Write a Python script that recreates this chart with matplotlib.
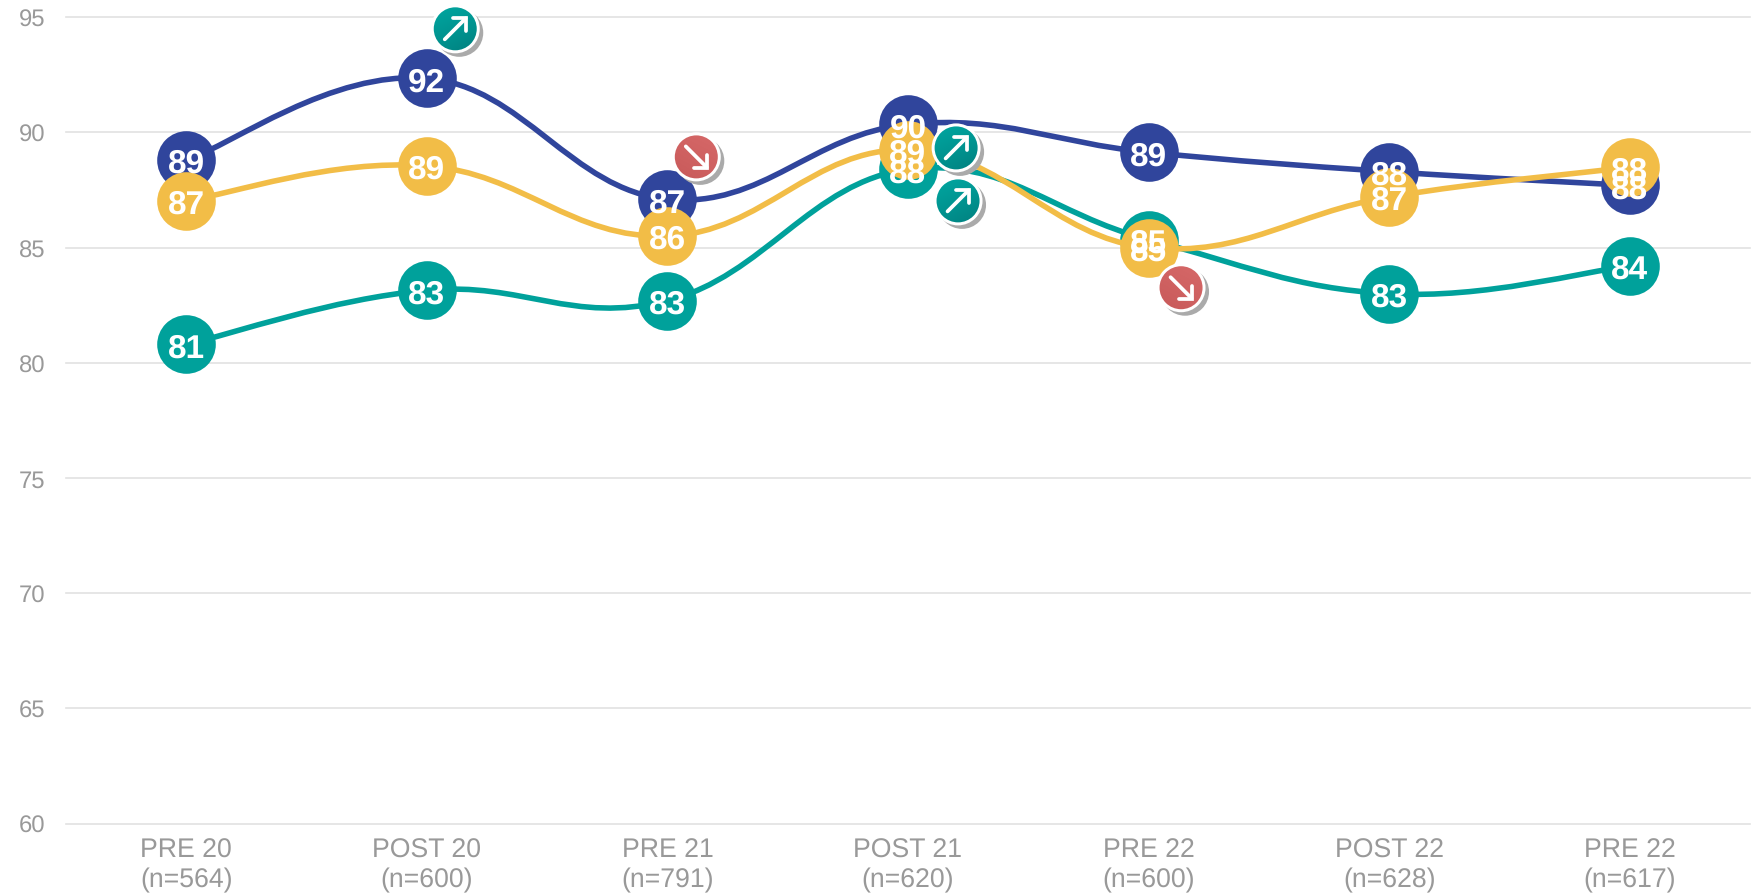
import matplotlib
matplotlib.use('Agg')
import matplotlib.pyplot as plt
import numpy as np
from matplotlib.patches import Ellipse, PathPatch
from matplotlib.path import Path

plt.rcParams['font.family'] = ['Liberation Sans', 'DejaVu Sans']
plt.rcParams['text.hinting'] = 'no_hinting'

categories = ['PRE 20\n(n=564)', 'POST 20\n(n=600)', 'PRE 21\n(n=791)', 'POST 21\n(n=620)',
              'PRE 22\n(n=600)', 'POST 22\n(n=628)', 'PRE 22\n(n=617)']
blue = [88.8, 92.35, 87.1, 90.35, 89.14, 88.3, 87.7]
teal = [80.8, 83.15, 82.7, 88.4, 85.35, 83.0, 84.2]
yellow = [87.04, 88.55, 85.5, 89.25, 85.0, 87.2, 88.49]
y_ticks = [60, 65, 70, 75, 80, 85, 90, 95]

# trend badges: x position, y value, direction
badge_x = [1.118, 2.12, 3.2, 3.208, 4.135]
badge_y = [94.5, 88.94, 89.33, 87.03, 83.26]
badge_dir = ['up', 'down', 'up', 'up', 'down']

BLUE = '#30459c'
TEAL = '#00a19b'
YELLOW = '#f2bd47'
GREY = '#999999'

W, H = 1759, 895
TOP, BOTTOM = 18.3, 824.5
fig = plt.figure(figsize=(W / 100, H / 100), dpi=100)
ax = fig.add_axes([66 / W, 1 - BOTTOM / H, (1750 - 66) / W, (BOTTOM - TOP) / H])
ax.set_xlim(-0.5, 6.5)
ax.set_ylim(60, 95)
px_x = (1750 - 66) / 7
px_y = (BOTTOM - TOP) / 35

for s in ax.spines.values():
    s.set_visible(False)
ax.set_yticks(y_ticks)
ax.set_xticks(range(len(categories)))
ax.set_xticklabels(categories, fontsize=19.2, color=GREY, linespacing=1.25)
ax.tick_params(axis='x', length=0, pad=9.5)
ax.tick_params(axis='y', length=0, pad=15, labelsize=17.2, labelcolor=GREY)
ax.grid(axis='y', color='#e2e2e2', linewidth=1.2, clip_on=False)
ax.set_axisbelow(True)


def smooth_path(xs, ys):
    # same kind of smoothing as a spreadsheet line chart
    pts = np.column_stack([xs, ys])
    verts = [pts[0]]
    codes = [Path.MOVETO]
    for i in range(len(pts) - 1):
        before = pts[max(i - 1, 0)]
        after = pts[min(i + 2, len(pts) - 1)]
        verts.append(pts[i] + (pts[i + 1] - before) / 5)
        verts.append(pts[i + 1] - (after - pts[i]) / 5)
        verts.append(pts[i + 1])
        codes += [Path.CURVE4] * 3
    return Path(verts, codes)


x = np.arange(len(categories))
z = 3
for vals, col in [(blue, BLUE), (teal, TEAL), (yellow, YELLOW)]:
    ax.add_patch(PathPatch(smooth_path(x, vals), fc='none', ec=col, lw=4.0, zorder=z, capstyle='round'))
    ax.plot(x, vals, linestyle='none', marker='o', ms=42.2, mfc=col, mew=0, zorder=z + 0.5, clip_on=False)
    z += 1

for vals in [blue, teal, yellow]:
    for xi, v in zip(x, vals):
        ax.text(xi, v, f'{v:.0f}', color='white', fontsize=24, fontweight='bold',
                ha='center', va='center_baseline', zorder=10)


def badge(bx, by, direction):
    if direction == 'up':
        top, bottom = '#00a6a0', '#00807f'
        grad = np.array([[0.0, 0.2], [0.6, 1.0]])
    else:
        top, bottom = '#d66868', '#c85a5a'
        grad = np.array([[0.3, 0.0], [1.0, 0.6]])
    c0 = np.array(matplotlib.colors.to_rgb(top))
    c1 = np.array(matplotlib.colors.to_rgb(bottom))
    fine = np.linspace(0, 1, 40)
    gx, gy = np.meshgrid(fine, fine)
    g = grad[0, 0] * (1 - gx) * (1 - gy) + grad[0, 1] * gx * (1 - gy) + grad[1, 0] * (1 - gx) * gy + grad[1, 1] * gx * gy
    img = c0[None, None, :] * (1 - g[..., None]) + c1[None, None, :] * g[..., None]

    ax.add_patch(Ellipse((bx + 4 / px_x, by - 4 / px_y), 48 / px_x, 48 / px_y, fc='#aaaaaa', ec='none', zorder=11, clip_on=False))
    ax.add_patch(Ellipse((bx, by), 49 / px_x, 49 / px_y, fc='white', ec='none', zorder=11.1, clip_on=False))
    e = Ellipse((bx, by), 43 / px_x, 43 / px_y, fc='none', ec='none', zorder=11.2, clip_on=False)
    ax.add_patch(e)
    im = ax.imshow(img, extent=[bx - 22 / px_x, bx + 22 / px_x, by - 22 / px_y, by + 22 / px_y],
                   aspect='auto', zorder=11.2, origin='upper')
    im.set_clip_box(fig.bbox)
    im.set_clip_path(e)

    sign = 1 if direction == 'up' else -1
    ax.plot([bx - 10.5 / px_x, bx + 10.5 / px_x], [by - 10.5 * sign / px_y, by + 10.5 * sign / px_y],
            color='white', lw=2.7, solid_capstyle='round', zorder=12, clip_on=False)
    ax.plot([bx - 2 / px_x, bx + 11 / px_x, bx + 11 / px_x],
            [by + 11 * sign / px_y, by + 11 * sign / px_y, by - 2 * sign / px_y],
            color='white', lw=2.7, solid_capstyle='round', solid_joinstyle='miter', zorder=12, clip_on=False)


for bx, by, d in zip(badge_x, badge_y, badge_dir):
    badge(bx, by, d)

ax.set_xlim(-0.5, 6.5)
ax.set_ylim(60, 95)
fig.savefig('out.png', dpi=100, facecolor='white')
plt.close()
